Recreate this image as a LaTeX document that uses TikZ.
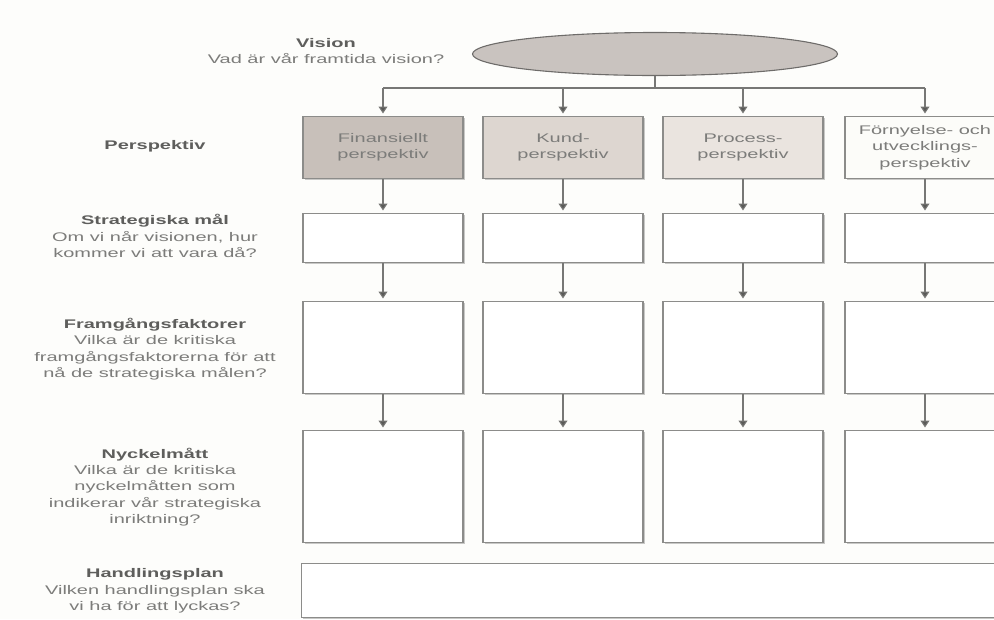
\documentclass[tikz,border=0pt]{standalone}
\usepackage{fontspec}
\setmainfont{Liberation Sans}[FakeStretch=1.6]
\usetikzlibrary{arrows.meta,shapes.geometric,shadows}

\definecolor{paper}{HTML}{FDFDFB}
\definecolor{edge}{HTML}{8C8C8A}
\definecolor{txt}{HTML}{7C7C7A}
\definecolor{head}{HTML}{5E5E5C}
\definecolor{tip}{HTML}{5A5A58}
\definecolor{ovalfill}{HTML}{C9C3BF}
\definecolor{ovaledge}{HTML}{6E6C6A}
\definecolor{fillA}{HTML}{C8C0BA}
\definecolor{fillB}{HTML}{DDD6D0}
\definecolor{fillC}{HTML}{EAE4DF}
\definecolor{fillD}{HTML}{FCFCF9}

\tikzset{
  txtfont/.style={font=\fontsize{12.5}{16.3}\selectfont, text=txt, align=center},
  rowlabel/.style={txtfont, inner sep=0pt},
  cell/.style={draw=edge, line width=1.1pt, fill=white, inner sep=0pt,
    minimum width=160pt, anchor=north, txtfont,
    drop shadow={shadow xshift=1.6pt, shadow yshift=-1.6pt, opacity=0.35, fill=black!60}},
  wire/.style={draw=edge!85!black, line width=1.1pt},
  flow/.style={wire, -{Triangle[width=9pt,length=7pt,fill=tip]}, shorten >=2.5pt},
}
\newcommand{\hd}[1]{{\bfseries\color{head}#1}}

\begin{document}
\begin{tikzpicture}[x=1pt,y=-1pt]
  \useasboundingbox (0,0) rectangle (994,619);
  \clip (0,0) rectangle (994,619);
  \fill[paper] (0,0) rectangle (994,619);

  % vision oval and the bus that feeds the four perspectives
  \node[ellipse, draw=ovaledge, line width=1.1pt, fill=ovalfill,
        minimum width=365pt, minimum height=43pt, inner sep=0pt] (vis) at (655,54) {};
  \coordinate (busL) at (383,88);
  \coordinate (busR) at (925,88);

  % row labels on the left
  \node[rowlabel] (lvis) at (326,51) {\hd{Vision}\\Vad är vår framtida vision?};
  \node[rowlabel] (lper) at (155,146) {\hd{Perspektiv}};
  \node[rowlabel] (lstr) at (155,236) {\hd{Strategiska mål}\\Om vi når visionen, hur\\kommer vi att vara då?};
  \node[rowlabel] (lfak) at (155,349) {\hd{Framgångsfaktorer}\\Vilka är de kritiska\\framgångsfaktorerna för att\\nå de strategiska målen?};
  \node[rowlabel] (lnyc) at (155,487) {\hd{Nyckelmått}\\Vilka är de kritiska\\nyckelmåtten som\\indikerar vår strategiska\\inriktning?};
  \node[rowlabel] (lhan) at (155,591) {\hd{Handlingsplan}\\Vilken handlingsplan ska\\vi ha för att lyckas?};

  % perspective row
  \node[cell, minimum height=62pt, fill=fillA] (p1) at (383,116) {Finansiellt\\perspektiv};
  \node[cell, minimum height=62pt, fill=fillB] (p2) at (563,116) {Kund-\\perspektiv};
  \node[cell, minimum height=62pt, fill=fillC] (p3) at (743,116) {Process-\\perspektiv};
  \node[cell, minimum height=62pt, fill=fillD] (p4) at (925,116) {Förnyelse- och\\utvecklings-\\perspektiv};

  % strategic goals
  \foreach \i/\x in {1/383,2/563,3/743,4/925}
    \node[cell, minimum height=49pt] (s\i) at (\x,213) {};
  % success factors
  \foreach \i/\x in {1/383,2/563,3/743,4/925}
    \node[cell, minimum height=92pt] (f\i) at (\x,301) {};
  % key measures
  \foreach \i/\x in {1/383,2/563,3/743,4/925}
    \node[cell, minimum height=112pt] (n\i) at (\x,430) {};

  % action plan
  \node[cell, anchor=north west, minimum width=700pt, minimum height=54pt] (hp) at (301,563) {};

  % connectors
  \draw[wire] (vis.south) -- (vis.south |- busL);
  \draw[wire] (busL) -- (busR);
  \foreach \i in {1,...,4} {
    \draw[flow] (p\i.north |- busL) -- (p\i.north);
    \draw[flow] (p\i.south) -- (s\i.north);
    \draw[flow] (s\i.south) -- (f\i.north);
    \draw[flow] (f\i.south) -- (n\i.north);
  }
\end{tikzpicture}
\end{document}
